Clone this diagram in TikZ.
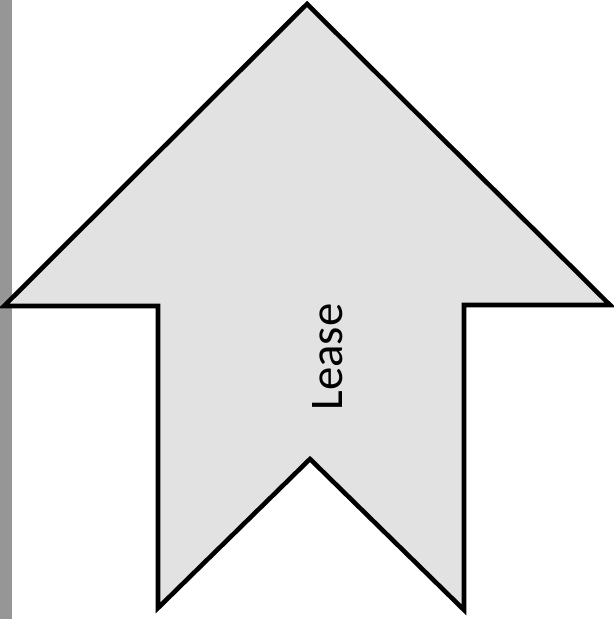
\documentclass[tikz,border=0pt]{standalone}
\usepackage{fontspec}
\setsansfont{Carlito}
\usepackage{tikz}
\usetikzlibrary{positioning, calc}
\definecolor{scanband}{RGB}{150, 150, 150}
\definecolor{stipple}{RGB}{226, 226, 226}

\begin{document}
\begin{tikzpicture}[
        shapeline/.style={draw=black, line width=1.3pt, line join=miter, fill=stipple},
        label/.style={font=\sffamily\fontsize{13.3}{15}\selectfont, rotate=90}
        ]
        \useasboundingbox (0,0) rectangle (6.13,6.19);
        \fill[scanband] (0,0) rectangle (0.12,6.19);

        \coordinate (tip) at (3.07,6.15);
        \coordinate (wingL) at (0.04,3.13);
        \coordinate (shaftL) at (1.58,3.13);
        \coordinate (footL) at (1.58,0.11);
        \coordinate (notch) at (3.10,1.60);
        \coordinate (footR) at (4.64,0.09);
        \coordinate (shaftR) at (4.64,3.14);
        \coordinate (wingR) at (6.10,3.14);

        \draw[shapeline] (tip) -- (wingR) -- (shaftR) -- (footR) -- (notch)
            -- (footL) -- (shaftL) -- (wingL) -- cycle;

        \node[label] (lease) at (3.28,2.62) {Lease};
    \end{tikzpicture}
\end{document}
